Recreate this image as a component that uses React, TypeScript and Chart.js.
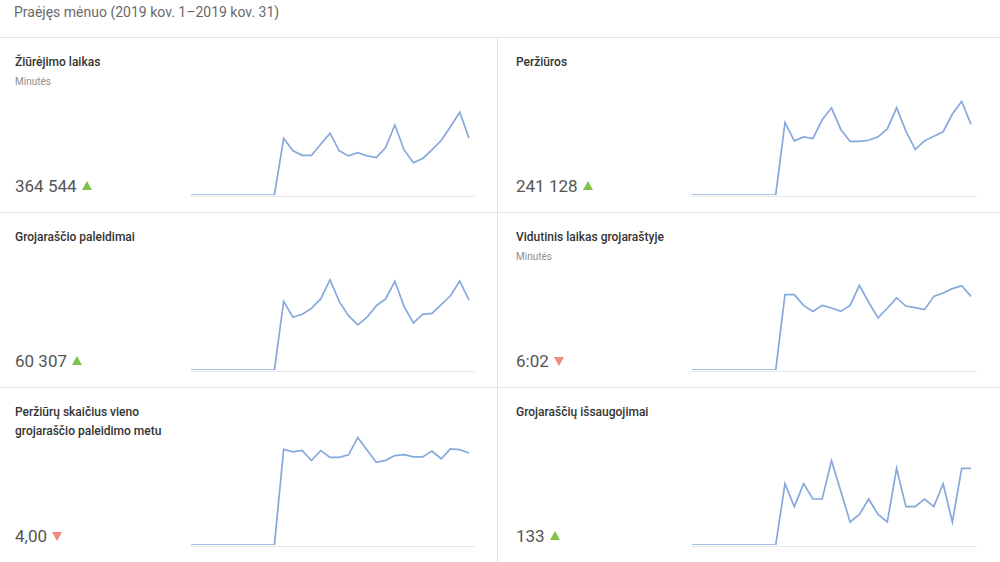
import React, { useEffect, useRef } from "react";
import { Chart, registerables } from "chart.js";

Chart.register(...registerables);

// ---- data ----
const days = ["1", "2", "3", "4", "5", "6", "7", "8", "9", "10", "11", "12", "13", "14", "15", "16", "17", "18", "19", "20", "21", "22", "23", "24", "25", "26", "27", "28", "29", "30", "31"];

const watchTime = [0, 0, 0, 0, 0, 0, 0, 0, 0, 0, 20000, 15600, 14000, 14000, 17900, 21800, 15600, 13800, 14900, 13800, 13200, 16700, 24700, 15900, 11400, 12900, 15900, 19200, 24100, 29200, 20000];
const views = [0, 0, 0, 0, 0, 0, 0, 0, 0, 0, 12700, 9500, 10200, 9900, 13200, 15300, 11500, 9400, 9400, 9600, 10200, 11600, 15300, 11200, 8000, 9500, 10300, 11100, 14200, 16400, 12400];
const playlistStarts = [0, 0, 0, 0, 0, 0, 0, 0, 0, 0, 3030, 2330, 2460, 2720, 3140, 3990, 3020, 2400, 1990, 2330, 2840, 3140, 3920, 2800, 2080, 2460, 2500, 2890, 3280, 3930, 3090];
const avgTimeInPlaylist = [0, 0, 0, 0, 0, 0, 0, 0, 0, 0, 6.63, 6.63, 5.69, 5.16, 5.69, 5.46, 5.16, 5.69, 7.45, 5.96, 4.58, 5.43, 6.34, 5.63, 5.49, 5.31, 6.48, 6.78, 7.16, 7.42, 6.48];
const viewsPerStart = [0, 0, 0, 0, 0, 0, 0, 0, 0, 0, 4.19, 4.08, 4.14, 3.7, 4.14, 3.84, 3.84, 3.95, 4.71, 4.16, 3.62, 3.71, 3.92, 3.96, 3.86, 3.86, 4.12, 3.78, 4.21, 4.18, 4.03];
const playlistSaves = [0, 0, 0, 0, 0, 0, 0, 0, 0, 0, 8, 5, 8, 6, 6, 11, 7, 3, 4, 6, 4, 3, 10, 5, 5, 6, 5, 8, 3, 10, 10];

const headerText = "Praėjęs mėnuo (2019 kov. 1–2019 kov. 31)";
const cardTitles = [
  "Žiūrėjimo laikas",
  "Peržiūros",
  "Grojaraščio paleidimai",
  "Vidutinis laikas grojaraštyje",
  "Peržiūrų skaičius vieno grojaraščio paleidimo metu",
  "Grojaraščių išsaugojimai",
];
const cardSubtitles = ["Minutės", "", "", "Minutės", "", ""];
const cardTotals = ["364 544", "241 128", "60 307", "6:02", "4,00", "133"];
const cardTrends = ["up", "up", "up", "down", "down", "up"];
const cardSeries = [watchTime, views, playlistStarts, avgTimeInPlaylist, viewsPerStart, playlistSaves];
const cardYMax = [38800, 19300, 4860, 9.68, 4.82, 14.35];

// ---- layout constants ----
const ROW_TOPS = [38, 213, 388];
const COL_LEFTS = [0, 498];
const PLOT_H = 110;
const PAD = { left: 3, right: 9, top: 4, bottom: 4 };

const baselinePlugin = {
  id: "baseline",
  beforeDatasetsDraw(chart: any) {
    const { ctx, chartArea } = chart;
    const y = Math.round(chart.scales.y.getPixelForValue(0)) + 1.5;
    ctx.save();
    ctx.strokeStyle = "#e8e8e8";
    ctx.lineWidth = 1;
    ctx.beginPath();
    ctx.moveTo(chartArea.left - 1, y);
    ctx.lineTo(chartArea.right + 6, y);
    ctx.stroke();
    ctx.restore();
  },
};

function Sparkline({ data, yMax, width }: { data: number[]; yMax: number; width: number }) {
  const ref = useRef<HTMLCanvasElement | null>(null);
  useEffect(() => {
    if (!ref.current) return;
    const chart = new Chart(ref.current, {
      type: "line",
      data: {
        labels: days,
        datasets: [
          {
            data,
            borderColor: "#86a8dc",
            borderWidth: 1.7,
            pointRadius: 0,
            tension: 0,
            fill: false,
          },
        ],
      },
      options: {
        animation: false,
        responsive: true,
        maintainAspectRatio: false,
        layout: { padding: PAD },
        plugins: { legend: { display: false }, tooltip: { enabled: false } },
        scales: {
          x: { display: false },
          y: { display: false, min: 0, max: yMax },
        },
      },
      plugins: [baselinePlugin],
    });
    return () => chart.destroy();
  }, [data, yMax]);
  return (
    <div style={{ position: "relative", width: width + PAD.left + PAD.right, height: PLOT_H + PAD.top + PAD.bottom }}>
      <canvas ref={ref} />
    </div>
  );
}

function Triangle({ dir }: { dir: string }) {
  const up = dir === "up";
  return (
    <span
      style={{
        display: "inline-block",
        width: 0,
        height: 0,
        borderLeft: "5px solid transparent",
        borderRight: "5px solid transparent",
        borderBottom: up ? "9px solid #7fc34b" : "none",
        borderTop: up ? "none" : "9px solid #ef8a80",
        marginLeft: 5,
        verticalAlign: "middle",
        position: "relative",
        top: up ? -2 : -1,
      }}
    />
  );
}

function Card({ i }: { i: number }) {
  const row = Math.floor(i / 2);
  const col = i % 2;
  const top = ROW_TOPS[row];
  const left = COL_LEFTS[col];
  const textX = col === 0 ? 15 : 18;
  const chartX = col === 0 ? 191 : 194;
  const chartW = col === 0 ? 278 : 279;
  return (
    <div style={{ position: "absolute", left, top, width: col === 0 ? 497 : 502, height: 175 }}>
      <div
        style={{
          position: "absolute",
          left: textX,
          top: 15,
          width: 170,
          fontSize: 12,
          lineHeight: "19px",
          fontWeight: 500,
          color: "#333333",
        }}
      >
        {cardTitles[i]}
      </div>
      {cardSubtitles[i] ? (
        <div
          style={{
            position: "absolute",
            left: textX,
            top: 37,
            fontSize: 10,
            lineHeight: "14px",
            color: "#8e8e8e",
          }}
        >
          {cardSubtitles[i]}
        </div>
      ) : null}
      <div
        style={{
          position: "absolute",
          left: textX,
          top: 138,
          fontSize: 17,
          lineHeight: "20px",
          color: "#555555",
          whiteSpace: "nowrap",
        }}
      >
        {cardTotals[i]}
        <Triangle dir={cardTrends[i]} />
      </div>
      <div style={{ position: "absolute", left: chartX - PAD.left, top: 157 - PLOT_H - PAD.top }}>
        <Sparkline data={cardSeries[i]} yMax={cardYMax[i]} width={chartW} />
      </div>
    </div>
  );
}

export default function App() {
  return (
    <div
      style={{
        position: "absolute",
        left: 0,
        top: 0,
        width: 1000,
        height: 562,
        overflow: "hidden",
        background: "#ffffff",
        fontFamily: "Roboto, 'Noto Sans', Arial, sans-serif",
      }}
    >
      <div style={{ position: "absolute", left: 14, top: 3, fontSize: 14, lineHeight: "18px", color: "#6a6a6a" }}>
        {headerText}
      </div>
      <div style={{ position: "absolute", left: 0, top: 37, width: 1000, height: 1, background: "#e3e3e3" }} />
      <div style={{ position: "absolute", left: 0, top: 212, width: 1000, height: 1, background: "#e3e3e3" }} />
      <div style={{ position: "absolute", left: 0, top: 387, width: 1000, height: 1, background: "#e3e3e3" }} />
      <div style={{ position: "absolute", left: 497, top: 38, width: 1, height: 524, background: "#e3e3e3" }} />
      {[0, 1, 2, 3, 4, 5].map((i) => (
        <Card key={i} i={i} />
      ))}
    </div>
  );
}
